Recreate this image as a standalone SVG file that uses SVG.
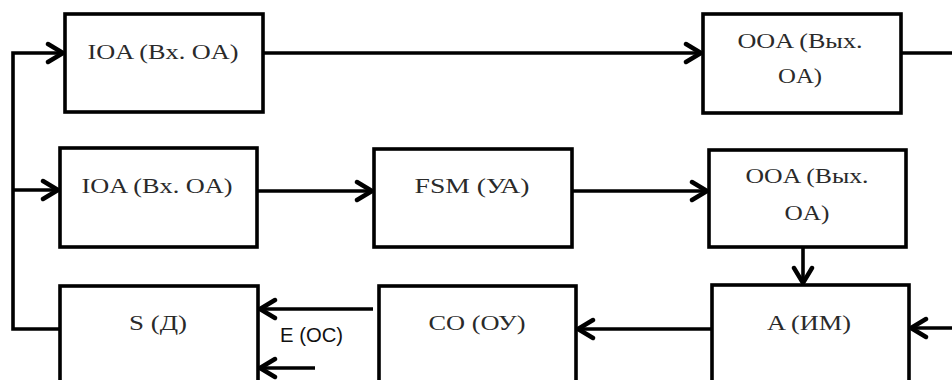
<svg xmlns="http://www.w3.org/2000/svg" width="952" height="380" viewBox="0 0 952 380">
<style>
  .box { fill: #ffffff; stroke: #000000; stroke-width: 3.6; }
  .lbl { font-family: "Liberation Serif", "Times New Roman", serif; font-size: 20px; fill: #2a2a2a; text-anchor: middle; }
  .sans { font-family: "Liberation Sans", Arial, sans-serif; font-size: 21px; fill: #111111; }
  .conn { fill: none; stroke: #000000; stroke-width: 3.6; stroke-linejoin: miter; }
</style>
<defs>
  <marker id="arr" markerUnits="userSpaceOnUse" markerWidth="24" markerHeight="24" viewBox="-20 -12 24 24" refX="0" refY="0" orient="auto">
    <path d="M -15 -9 L 0 0 L -15 9" fill="none" stroke="#000000" stroke-width="4.4" stroke-linecap="round" stroke-linejoin="miter"/>
  </marker>
</defs>
<rect width="952" height="380" fill="#ffffff"/>

<g id="connectors">
  <path class="conn" d="M60 329 H13 V53 H63" marker-end="url(#arr)"/>
  <path class="conn" d="M13 190 H58" marker-end="url(#arr)"/>
  <path class="conn" d="M263 53 H701" marker-end="url(#arr)"/>
  <path class="conn" d="M901 53 H952"/>
  <path class="conn" d="M257 191 H372" marker-end="url(#arr)"/>
  <path class="conn" d="M572 191 H707" marker-end="url(#arr)"/>
  <path class="conn" d="M803 247 V283" marker-end="url(#arr)"/>
  <path class="conn" d="M712 329 H578" marker-end="url(#arr)"/>
  <path class="conn" d="M952 328 H911" marker-end="url(#arr)"/>
  <path class="conn" d="M373 309 H260" marker-end="url(#arr)"/>
  <path class="conn" d="M315 368 H260" marker-end="url(#arr)"/>
  <text class="sans" x="280" y="342" textLength="63" lengthAdjust="spacingAndGlyphs">E (OC)</text>
</g>

<g id="ioa-top">
  <rect class="box" x="65" y="14" width="198" height="98"/>
  <text class="lbl" x="163" y="59" textLength="151" lengthAdjust="spacingAndGlyphs">IOA (Bx. OA)</text>
</g>
<g id="ooa-top">
  <rect class="box" x="703" y="14" width="198" height="99"/>
  <text class="lbl" x="800" y="48" textLength="125" lengthAdjust="spacingAndGlyphs">OOA (Вых.</text>
  <text class="lbl" x="800" y="83" textLength="44" lengthAdjust="spacingAndGlyphs">OA)</text>
</g>
<g id="ioa-mid">
  <rect class="box" x="60" y="148" width="197" height="99"/>
  <text class="lbl" x="157" y="193" textLength="151" lengthAdjust="spacingAndGlyphs">IOA (Bx. OA)</text>
</g>
<g id="fsm">
  <rect class="box" x="374" y="149" width="198" height="98"/>
  <text class="lbl" x="472" y="193" textLength="115" lengthAdjust="spacingAndGlyphs">FSM (УА)</text>
</g>
<g id="ooa-mid">
  <rect class="box" x="709" y="150" width="197" height="97"/>
  <text class="lbl" x="807" y="183" textLength="123" lengthAdjust="spacingAndGlyphs">OOA (Вых.</text>
  <text class="lbl" x="807" y="220" textLength="45" lengthAdjust="spacingAndGlyphs">OA)</text>
</g>
<g id="s">
  <rect class="box" x="60" y="286" width="198" height="120"/>
  <text class="lbl" x="158" y="330" textLength="58" lengthAdjust="spacingAndGlyphs">S (Д)</text>
</g>
<g id="co">
  <rect class="box" x="379" y="286" width="197" height="120"/>
  <text class="lbl" x="477" y="330" textLength="97" lengthAdjust="spacingAndGlyphs">CO (ОУ)</text>
</g>
<g id="a">
  <rect class="box" x="712" y="285" width="197" height="120"/>
  <text class="lbl" x="809" y="330" textLength="84" lengthAdjust="spacingAndGlyphs">A (ИМ)</text>
</g>
</svg>
